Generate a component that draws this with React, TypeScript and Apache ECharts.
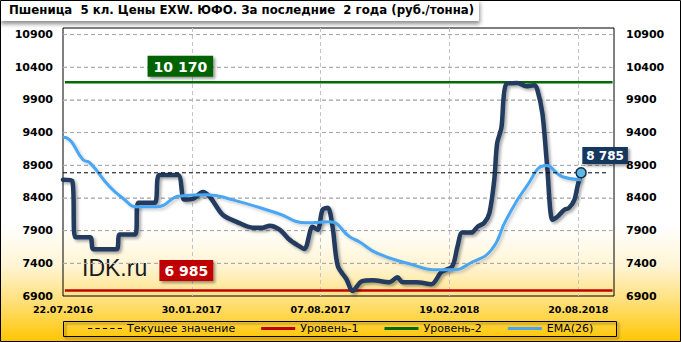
import React, { useEffect, useRef } from 'react';
import * as echarts from 'echarts';

const titleText = 'Пшеница  5 кл. Цены EXW. ЮФО. За последние  2 года (руб./тонна)';
const xTickIdx = [0, 27, 54, 81, 108];
const xTickLabels = ['22.07.2016', '30.01.2017', '07.08.2017', '19.02.2018', '20.08.2018'];
const yTicks = [6900, 7400, 7900, 8400, 8900, 9400, 9900, 10400, 10900];
const yMin = 6900;
const yMax = 11000;
const yStep = 500;

const priceWeeks = [0, 1.9, 2.6, 5.7, 6.4, 11.2, 11.9, 15.1, 15.8, 19.2, 20.2, 24.1, 25.4, 27.2, 29.3, 30.8, 33.5, 36.4, 39.8, 41.9, 43.3, 45.4, 47.5, 49.0, 50.6, 52.3, 53.4, 54.4, 55.5, 56.5, 57.6, 59.4, 60.7, 62.6, 64.9, 68.4, 70.1, 71.2, 74.1, 77.2, 79.3, 81.6, 82.7, 83.7, 85.6, 86.9, 88.3, 89.4, 90.4, 91.0, 91.9, 92.9, 95.2, 97.1, 98.8, 99.4, 100.5, 101.5, 102.6, 103.6, 105.1, 106.1, 107.2, 107.8, 108.6];
const priceValues = [8680, 8665, 7800, 7800, 7615, 7615, 7840, 7840, 8325, 8325, 8750, 8750, 8375, 8385, 8490, 8415, 8140, 8035, 7945, 7945, 7975, 7915, 7760, 7685, 7620, 7960, 7915, 8220, 8250, 7960, 7360, 7160, 6975, 7125, 7140, 7110, 7185, 7110, 7110, 7080, 7265, 7355, 7660, 7870, 7870, 7960, 8020, 8175, 8675, 9235, 9475, 10140, 10160, 10110, 10125, 10065, 9690, 8870, 8065, 8110, 8220, 8250, 8370, 8565, 8785];

const emaWeeks = [0, 0.8, 4.2, 5.6, 9.8, 12.5, 15.5, 19.7, 24.5, 30.1, 35.6, 44.8, 51.1, 55.9, 60.1, 62.1, 65.7, 72.0, 78.9, 81.6, 85.8, 89.8, 92.9, 97.1, 101.3, 104.7, 108.6];
const emaValues = [9330, 9320, 8985, 8940, 8570, 8400, 8265, 8265, 8430, 8450, 8370, 8170, 8020, 8035, 7805, 7730, 7560, 7405, 7300, 7300, 7420, 7605, 8065, 8570, 8895, 8725, 8680];

const level1 = 6985;
const level2 = 10170;
const currentValue = 8785;

const fmt = (v: number) => String(v).replace(/\B(?=(\d{3})+(?!\d))/g, ' ');

export default function App() {
  const ref = useRef<HTMLDivElement>(null);
  useEffect(() => {
    if (!ref.current) return;
    const chart = echarts.init(ref.current, undefined, { renderer: 'svg' });
    const xMax = 115.5;
    const pricePts = priceWeeks.map((w, i) => [w, priceValues[i]]);
    const emaPts = emaWeeks.map((w, i) => [w, emaValues[i]]);
    const lastWeek = priceWeeks[priceWeeks.length - 1];
    const yLabel = (v: number) => (yTicks.indexOf(v) >= 0 ? String(v) : '');
    const axisFont = { fontFamily: 'DejaVu Sans', fontWeight: 'bold' as const, fontSize: 11, color: '#000' };
    const shadow = { shadowColor: 'rgba(0,0,0,0.35)', shadowBlur: 3, shadowOffsetX: 2, shadowOffsetY: 2 };
    const gridColor = '#C4C4C4';
    const boxLabel = (bg: string, size: number, pad: number[]) => ({
      show: true,
      color: '#fff',
      fontFamily: 'DejaVu Sans',
      fontWeight: 'bold' as const,
      fontSize: size,
      backgroundColor: bg,
      padding: pad,
      shadowColor: 'rgba(0,0,0,0.4)',
      shadowBlur: 3,
      shadowOffsetX: 2,
      shadowOffsetY: 2,
    });
    const dashIcon = 'path://M0 0h4v1H0z M7 0h4v1H7z M14 0h4v1h-4z M21 0h4v1h-4z M28 0h4v1h-4z';
    const gridSeries = yTicks.slice(1).map((v) => ({
      name: 'hgrid' + v,
      type: 'line',
      symbol: 'none',
      silent: true,
      z: 2,
      data: [[0, v], [114.9, v]],
      lineStyle: { color: '#9E9E9E', width: 1, type: [4, 3], opacity: 0.8 },
      itemStyle: { color: '#9E9E9E' },
    }));
    chart.setOption({
      animation: false,
      backgroundColor: new echarts.graphic.LinearGradient(0, 0, 0, 1, [
        { offset: 0, color: '#FFFFFF' },
        { offset: 0.66, color: '#FFFFFF' },
        { offset: 0.78, color: '#FFF4D2' },
        { offset: 0.88, color: '#FFE07A' },
        { offset: 1, color: '#FFC500' },
      ]),
      title: {
        text: titleText,
        left: 9,
        top: 4,
        padding: 0,
        textStyle: { fontFamily: 'DejaVu Sans', fontWeight: 'bold', fontSize: 11.75, color: '#000' },
      },
      graphic: [
        {
          type: 'rect',
          z: -1,
          shape: { x: 0, y: 0, width: 479, height: 21 },
          style: { fill: '#fff', shadowColor: 'rgba(0,0,0,0.45)', shadowBlur: 4, shadowOffsetX: 1, shadowOffsetY: 3 },
        },
        {
          type: 'rect',
          shape: { x: 63.5, y: 321.5, width: 553, height: 15 },
          style: { fill: 'none', stroke: '#000', lineWidth: 1, shadowColor: 'rgba(0,0,0,0.45)', shadowBlur: 2, shadowOffsetX: 2, shadowOffsetY: 2 },
        },
        {
          type: 'text',
          left: 82,
          top: 256,
          style: { text: 'IDK.ru', fontFamily: 'Liberation Sans', fontSize: 23, fill: '#1a1a1a' },
        },
        {
          type: 'rect',
          shape: { x: 0.5, y: 0.5, width: 680, height: 341 },
          style: { fill: 'none', stroke: '#000', lineWidth: 1 },
        },
      ],
      legend: {
        data: [
          { name: 'Текущее значение', icon: dashIcon },
          { name: 'Уровень-1', icon: 'rect' },
          { name: 'Уровень-2', icon: 'rect' },
          { name: 'EMA(26)', icon: 'rect' },
        ],
        left: 88,
        top: 323,
        padding: 0,
        itemWidth: 34,
        itemHeight: 3,
        itemGap: 26,
        selectedMode: false,
        textStyle: { fontFamily: 'DejaVu Sans', fontSize: 11, color: '#000' },
      },
      grid: { left: 63, right: 67, top: 28, bottom: 46, show: true, borderColor: '#000', borderWidth: 1 },
      xAxis: {
        type: 'value',
        min: 0,
        max: xMax,
        interval: 27,
        axisLine: { show: false },
        axisTick: { show: false },
        splitLine: { show: true, showMinLine: false, showMaxLine: false, lineStyle: { color: gridColor, type: [4, 3], width: 1 } },
        axisLabel: {
          ...axisFont,
          fontSize: 9.5,
          margin: 8,
          formatter: (v: number) => {
            const i = xTickIdx.indexOf(v);
            return i >= 0 ? xTickLabels[i] : '';
          },
        },
      },
      yAxis: [
        {
          type: 'value', min: yMin, max: yMax, interval: 100, position: 'left',
          axisLine: { show: false }, axisTick: { show: false }, splitLine: { show: false },
          axisLabel: { ...axisFont, margin: 10, formatter: yLabel },
        },
        {
          type: 'value', min: yMin, max: yMax, interval: 100, position: 'right',
          axisLine: { show: false }, axisTick: { show: false }, splitLine: { show: false },
          axisLabel: { ...axisFont, margin: 12, formatter: yLabel },
        },
        {
          type: 'value', min: 0, max: yMax - yMin, interval: yStep, position: 'left',
          axisLine: { show: false }, axisTick: { show: false }, axisLabel: { show: false },
          splitLine: { show: true, showMinLine: false, showMaxLine: false, lineStyle: { color: gridColor, type: [4, 3], width: 1 } },
        },
      ],
      series: [
        ...gridSeries,
        {
          name: 'Уровень-1', type: 'line', symbol: 'none', silent: true,
          data: [[0.4, level1], [115.2, level1]],
          lineStyle: { color: '#C00000', width: 2.5 },
          itemStyle: { color: '#C00000' },
        },
        {
          name: 'Уровень-2', type: 'line', symbol: 'none', silent: true,
          data: [[0.4, level2], [115.2, level2]],
          lineStyle: { color: '#006A00', width: 2.5 },
          itemStyle: { color: '#006A00' },
        },
        {
          name: 'price', type: 'line', symbol: 'none', silent: true, smooth: 0.3,
          data: pricePts,
          lineStyle: { color: '#213A5E', width: 4.5, cap: 'round', join: 'round', ...shadow },
        },
        {
          name: 'EMA(26)', type: 'line', symbol: 'none', silent: true, smooth: 0.5,
          data: emaPts,
          lineStyle: { color: '#4AA6F2', width: 3, ...shadow, shadowColor: 'rgba(0,0,0,0.2)' },
          itemStyle: { color: '#4AA6F2' },
        },
        {
          name: 'Текущее значение', type: 'line', symbol: 'none', silent: true,
          data: [[0, currentValue], [114, currentValue]],
          lineStyle: { color: '#000', width: 1, type: [4, 3] },
          itemStyle: { color: '#000' },
        },
        {
          name: 'labels', type: 'scatter', silent: true, z: 10,
          data: [
            {
              value: [24.6, level2], symbolSize: 1, itemStyle: { color: 'rgba(0,0,0,0)', opacity: 1 },
              label: { ...boxLabel('#006400', 14, [4, 6, 3, 6]), position: 'top', distance: 5, formatter: fmt(level2) },
            },
            {
              value: [25.85, level1], symbolSize: 1, itemStyle: { color: 'rgba(0,0,0,0)', opacity: 1 },
              label: { ...boxLabel('#C00000', 14, [4, 5, 3, 5]), position: 'top', distance: 9, formatter: fmt(level1) },
            },
            {
              value: [lastWeek, currentValue], symbol: 'circle', symbolSize: 10,
              itemStyle: { color: '#5CB8E0', borderColor: '#1B2F4A', borderWidth: 1.5, opacity: 1 },
              label: { ...boxLabel('#17375E', 12, [3, 4, 2, 4]), position: [7, -20], align: 'left', verticalAlign: 'top', formatter: fmt(currentValue) },
            },
          ],
        },
      ],
    });
    return () => chart.dispose();
  }, []);
  return <div ref={ref} style={{ position: 'absolute', left: 0, top: 0, width: 681, height: 342 }} />;
}
